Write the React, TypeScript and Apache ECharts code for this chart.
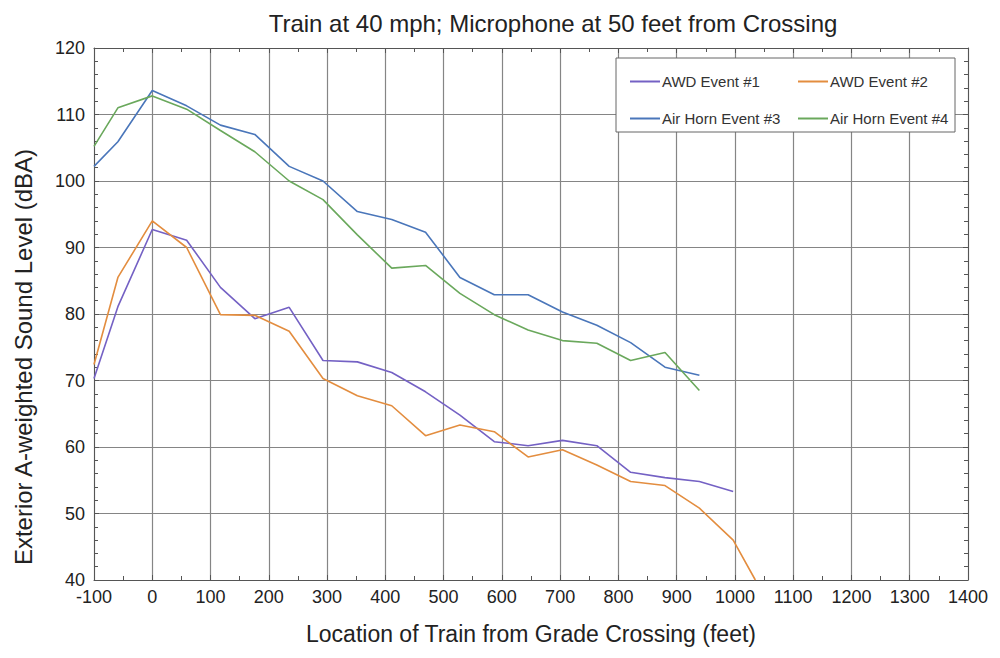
import React, { useEffect, useRef } from "react";
import * as echarts from "echarts";

const titleText = "Train at 40 mph; Microphone at 50 feet from Crossing";
const xAxisName = "Location of Train from Grade Crossing (feet)";
const yAxisName = "Exterior A-weighted Sound Level (dBA)";

const seriesNames = ["AWD Event #1", "AWD Event #2", "Air Horn Event #3", "Air Horn Event #4"];
const seriesColors = ["#7461c4", "#e38d3f", "#4a76ba", "#6aa85c"];

const xAwd1 = [-100, -59, 0, 59, 117, 176, 235, 293, 352, 411, 469, 528, 587, 645, 704, 763, 821, 880, 939, 997];
const yAwd1 = [70.3, 81.1, 92.7, 91.1, 84.0, 79.3, 81.0, 73.0, 72.8, 71.2, 68.3, 64.8, 60.8, 60.2, 61.0, 60.2, 56.2, 55.4, 54.8, 53.3];

const xAwd2 = [-100, -59, 0, 59, 117, 176, 235, 293, 352, 411, 469, 528, 587, 645, 704, 763, 821, 880, 939, 997, 1035];
const yAwd2 = [72.4, 85.5, 94.0, 90.0, 79.9, 79.8, 77.4, 70.3, 67.7, 66.2, 61.7, 63.3, 62.3, 58.5, 59.6, 57.3, 54.8, 54.2, 50.8, 46.0, 40.0];

const xHorn3 = [-100, -59, 0, 59, 117, 176, 235, 293, 352, 411, 469, 528, 587, 645, 704, 763, 821, 880, 939];
const yHorn3 = [102.2, 105.9, 113.6, 111.3, 108.4, 107.0, 102.2, 100.0, 95.4, 94.2, 92.3, 85.5, 82.9, 82.9, 80.3, 78.3, 75.7, 72.0, 70.8];

const xHorn4 = [-100, -59, 0, 59, 117, 176, 235, 293, 352, 411, 469, 528, 587, 645, 704, 763, 821, 880, 939];
const yHorn4 = [105.2, 111.0, 112.8, 110.8, 107.6, 104.4, 100.0, 97.2, 91.9, 86.9, 87.3, 83.1, 79.9, 77.6, 76.0, 75.6, 73.0, 74.2, 68.5];

const xMin = -100, xMax = 1400, xStep = 100;
const yMin = 40, yMax = 120, yStep = 10;

const zip = (xs: number[], ys: number[]) => xs.map((x, i) => [x, ys[i]]);

export default function App() {
  const ref = useRef<HTMLDivElement>(null);
  useEffect(() => {
    if (!ref.current) return;
    const chart = echarts.init(ref.current, undefined, { renderer: "svg" });
    const font = "'Liberation Sans', Arial, sans-serif";
    const axisColor = "#555";
    const gridColor = "#858585";
    const tickCommon = {
      axisLine: { show: true, onZero: false, lineStyle: { color: axisColor, width: 1 } },
      axisTick: { show: true, inside: true, length: 5, lineStyle: { color: axisColor } },
    };
    const legendCommon = {
      orient: "vertical",
      top: 69,
      icon: "rect",
      itemWidth: 30,
      itemHeight: 2,
      itemGap: 22,
      z: 10,
      textStyle: { fontFamily: font, fontSize: 15, color: "#333", padding: [0, 0, 0, -3] },
    };
    const allData = [zip(xAwd1, yAwd1), zip(xAwd2, yAwd2), zip(xHorn3, yHorn3), zip(xHorn4, yHorn4)];
    chart.setOption({
      animation: false,
      backgroundColor: "#fff",
      title: {
        text: titleText,
        left: 548,
        textAlign: "center",
        top: 6,
        textStyle: { fontFamily: font, fontSize: 24, fontWeight: "normal", color: "#222" },
      },
      grid: { left: 94, right: 32, top: 48, bottom: 78 },
      legend: [
        { ...legendCommon, data: [seriesNames[0], seriesNames[2]], left: 625 },
        { ...legendCommon, data: [seriesNames[1], seriesNames[3]], left: 793 },
      ],
      graphic: [
        {
          type: "rect",
          z: 3,
          shape: { x: 616, y: 58, width: 339, height: 74 },
          style: { fill: "#fff", stroke: "#666", lineWidth: 1 },
        },
        {
          type: "text",
          x: 23,
          y: 357,
          rotation: Math.PI / 2,
          style: {
            text: yAxisName,
            fontFamily: font,
            fontSize: 24,
            fill: "#222",
            align: "center",
            verticalAlign: "middle",
          },
        },
      ],
      xAxis: [
        {
          type: "value",
          min: xMin,
          max: xMax,
          interval: xStep,
          name: xAxisName,
          nameLocation: "middle",
          nameGap: 42,
          nameTextStyle: { fontFamily: font, fontSize: 23, color: "#222" },
          axisLabel: { fontFamily: font, fontSize: 18, color: "#222", margin: 8, formatter: (v: number) => String(v) },
          splitLine: { show: true, lineStyle: { color: gridColor, width: 1.2 } },
          ...tickCommon,
          minorTick: { show: true, splitNumber: 2, length: 4, lineStyle: { color: axisColor } },
        },
        {
          type: "value",
          position: "top",
          min: xMin,
          max: xMax,
          interval: xStep,
          axisLabel: { show: false },
          splitLine: { show: false },
          ...tickCommon,
          minorTick: { show: true, splitNumber: 2, length: 4, lineStyle: { color: axisColor } },
        },
      ],
      yAxis: [
        {
          type: "value",
          min: yMin,
          max: yMax,
          interval: yStep,
          axisLabel: { fontFamily: font, fontSize: 18, color: "#222", margin: 9 },
          splitLine: { show: true, lineStyle: { color: gridColor, width: 1.2 } },
          ...tickCommon,
          minorTick: { show: true, splitNumber: 5, length: 4, lineStyle: { color: axisColor } },
        },
        {
          type: "value",
          position: "right",
          min: yMin,
          max: yMax,
          interval: yStep,
          axisLabel: { show: false },
          splitLine: { show: false },
          ...tickCommon,
          minorTick: { show: true, splitNumber: 5, length: 4, lineStyle: { color: axisColor } },
        },
      ],
      series: seriesNames.map((name, i) => ({
        name,
        type: "line",
        data: allData[i],
        showSymbol: false,
        symbol: "none",
        clip: true,
        lineStyle: { color: seriesColors[i], width: 1.6 },
        itemStyle: { color: seriesColors[i] },
        z: 2,
      })),
    });
    return () => chart.dispose();
  }, []);
  return <div ref={ref} style={{ width: 1000, height: 658, position: "absolute", left: 0, top: 0 }} />;
}
